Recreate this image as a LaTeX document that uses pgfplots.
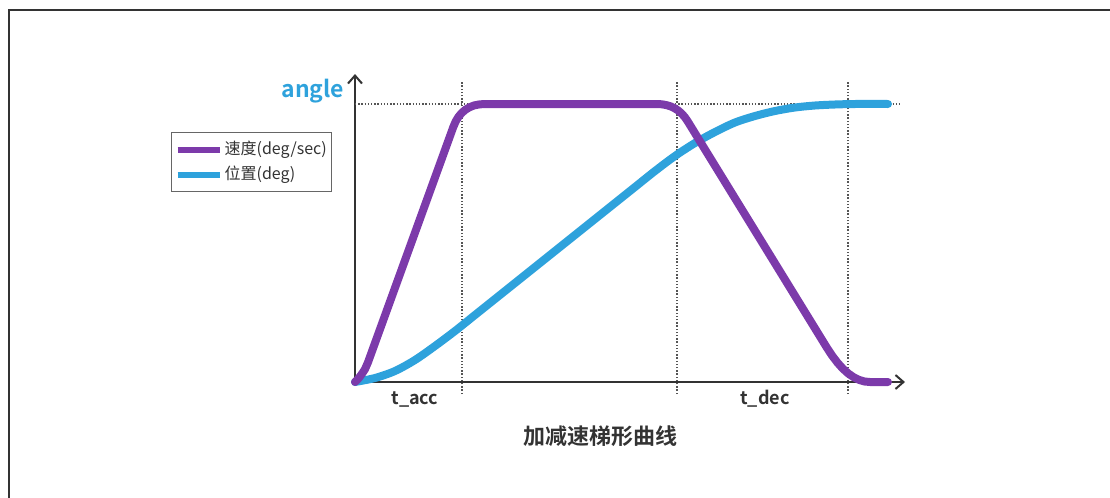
\documentclass[border=0pt]{standalone}
\usepackage{pgfplots}
\pgfplotsset{compat=1.18}
\usetikzlibrary{arrows.meta}
\usepackage{fontspec}
\setmainfont{Noto Sans CJK SC}[BoldFont={Noto Sans CJK SC Bold}]
\definecolor{vpurple}{HTML}{7C3AAA}
\definecolor{pblue}{HTML}{2EA2DC}
\definecolor{axgray}{HTML}{333333}
\definecolor{dotgray}{HTML}{555555}
\begin{document}
\begin{tikzpicture}
\path[use as bounding box] (0pt,0pt) rectangle (555pt,-249pt);
\draw[line width=1pt, axgray] (4.5pt,-249pt) -- (4.5pt,-5pt) -- (556pt,-5pt);
\begin{axis}[
  at={(177.5pt,-191pt)}, anchor=origin,
  x=0.5pt, y=0.5pt,
  xmin=0, xmax=550, ymin=0, ymax=308,
  axis lines=left,
  axis line style={line width=1pt, draw=axgray, -{Straight Barb[length=4pt,width=7pt]}},
  clip=false,
  xtick={60,410}, xticklabels={t\_acc,t\_dec}, ytick=\empty,
  major tick length=0pt,
  xticklabel style={anchor=base, yshift=-11pt, font=\bfseries\fontsize{9}{11}\selectfont, text=axgray},
  xlabel={加减速梯形曲线},
  xlabel style={at={(axis description cs:0.447,-0.175)}, anchor=center, font=\bfseries\fontsize{11}{13}\selectfont, text=axgray},
  ylabel={angle},
  ylabel style={at={(axis description cs:-0.0764,0.945)}, anchor=center, rotate=-90, font=\bfseries\fontsize{11.5}{14}\selectfont, text=pblue},
  reverse legend,
  legend cell align=left,
  legend image code/.code={\draw[#1, line width=3pt, line cap=butt] (0pt,0pt) -- (21pt,0pt);},
  legend style={at={(axis description cs:-0.3345,0.811)}, anchor=north west,
    draw=gray!80!black, line width=0.6pt, fill=white,
    font=\fontsize{8}{10}\selectfont, text=axgray,
    inner xsep=1.5pt, inner ysep=3pt, row sep=1.5pt,
    nodes={inner sep=1pt, text height=7pt, text depth=2pt}},
]
% guides
\addplot[forget plot, dotgray, line width=0.6pt, dash pattern=on 0.7pt off 0.9pt] coordinates {(0,278) (545,278)};
\addplot[forget plot, dotgray, line width=0.6pt, dash pattern=on 0.7pt off 0.9pt] coordinates {(107,-12) (107,300)};
\addplot[forget plot, dotgray, line width=0.6pt, dash pattern=on 0.7pt off 0.9pt] coordinates {(322,-12) (322,300)};
\addplot[forget plot, dotgray, line width=0.6pt, dash pattern=on 0.7pt off 0.9pt] coordinates {(493,-12) (493,300)};
% position (deg)
\addplot[pblue, line width=4pt, line cap=round, line join=round, smooth] coordinates {
(0,0) (20,4) (40,11) (60,22) (80,36) (100,51) (120,67) (140,83) (160,99) (180,115)
(200,131) (220,147) (240,163) (260,179) (280,195) (300,211) (320,226) (340,239)
(360,250) (380,259.5) (400,266) (420,271) (440,274.5) (460,276.5) (480,277.5)
(500,278) (533,278)};
\addlegendentry{位置(deg)}
% speed (deg/sec)
\addplot[vpurple, line width=4pt, line cap=round, line join=round] coordinates {
(0,0) (2.5,2.5) (5,5.5) (7.5,9) (10,12.8) (13,19.7)
(98.3,255) (100.6,260.4) (103.4,265.1) (106.65,269) (110.4,272.25) (114.6,274.8)
(119.25,276.6) (124.4,277.6) (130,278)
(302,278) (306.9,277.7) (311.4,276.9) (315.7,275.6) (319.6,273.75) (323.3,271.4)
(326.7,268.4) (329.7,265) (332.5,261)
(472,34.1) (477.3,26.1) (482.6,19.2) (487.9,13.3) (493.25,8.5) (498.6,4.8)
(504.1,2.1) (509.5,0.5) (515,0) (533,0)};
\addlegendentry{速度(deg/sec)}
\end{axis}
\end{tikzpicture}
\end{document}
